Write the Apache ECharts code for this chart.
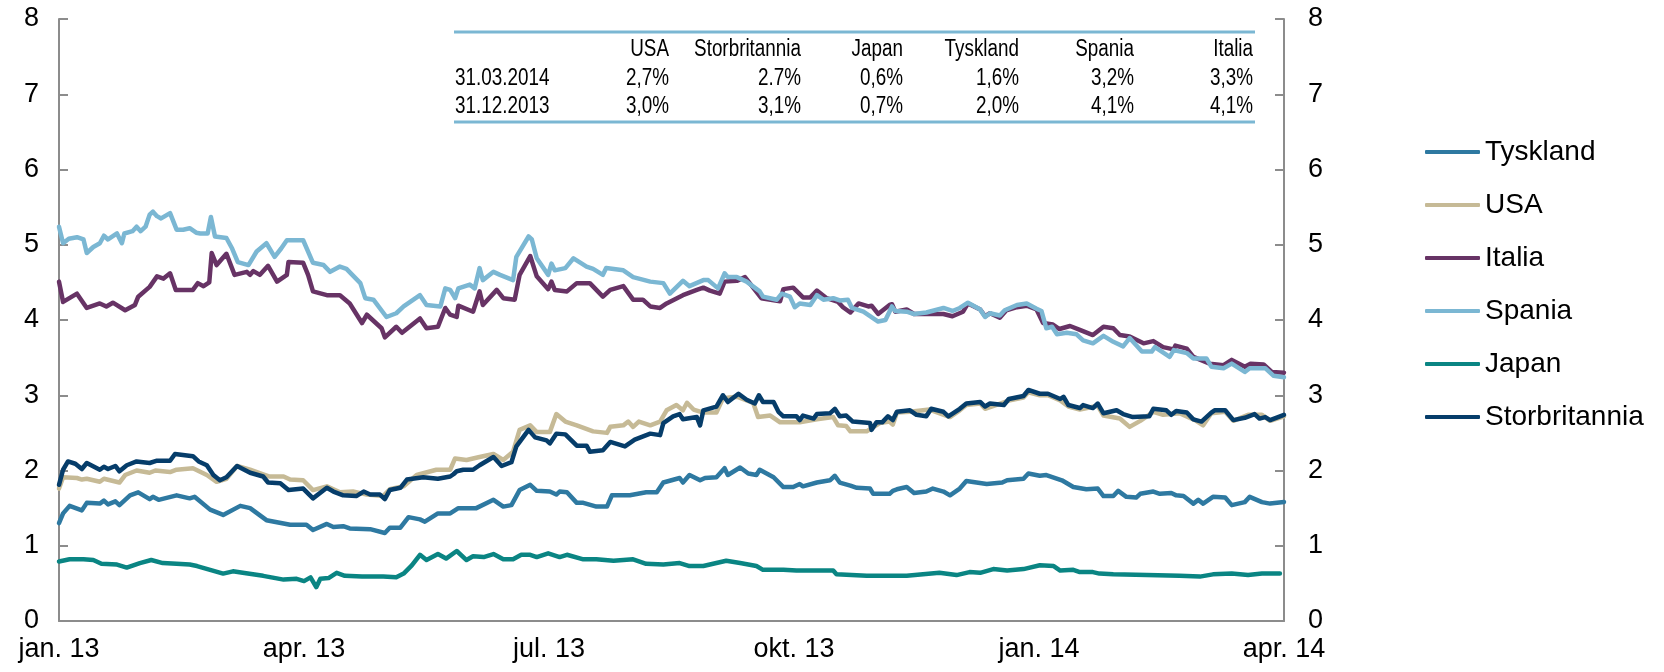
<!DOCTYPE html>
<html>
<head>
<meta charset="utf-8">
<title>Statsrenter</title>
<script src="https://cdn.jsdelivr.net/npm/echarts@6/dist/echarts.min.js"></script>
<style>
	html, body { margin: 0; padding: 0; background: #fff; }
	#chart { width: 1664px; height: 672px; }
</style>
</head>
<body>
<div id="chart"></div>
<script type="text/javascript">
	// x-verdier: måneder etter jan. 2013
	var xLabels = [ 'jan. 13', 'apr. 13', 'jul. 13', 'okt. 13', 'jan. 14', 'apr. 14' ];

	var tyskland = [[0,1.30],[0.05,1.43],[0.13,1.53],[0.28,1.47],[0.34,1.57],[0.5,1.56],[0.55,1.60],[0.6,1.55],[0.69,1.59],[0.74,1.54],[0.87,1.67],[0.97,1.71],[1.11,1.62],[1.15,1.65],[1.22,1.61],[1.44,1.67],[1.6,1.63],[1.66,1.65],[1.85,1.48],[2.01,1.41],[2.22,1.53],[2.34,1.50],[2.54,1.34],[2.83,1.28],[3.03,1.28],[3.11,1.21],[3.28,1.29],[3.36,1.25],[3.48,1.26],[3.56,1.23],[3.81,1.22],[3.99,1.17],[4.05,1.24],[4.18,1.24],[4.28,1.38],[4.42,1.35],[4.48,1.32],[4.64,1.43],[4.79,1.43],[4.89,1.50],[5.11,1.50],[5.32,1.61],[5.44,1.52],[5.54,1.54],[5.64,1.74],[5.77,1.81],[5.85,1.73],[6.01,1.72],[6.09,1.68],[6.13,1.72],[6.22,1.71],[6.34,1.57],[6.42,1.57],[6.58,1.52],[6.71,1.52],[6.77,1.67],[6.99,1.67],[7.19,1.71],[7.32,1.71],[7.4,1.84],[7.6,1.90],[7.64,1.84],[7.72,1.94],[7.85,1.87],[7.91,1.90],[8.05,1.91],[8.15,2.03],[8.19,1.94],[8.34,2.04],[8.44,1.96],[8.54,1.94],[8.58,2.01],[8.75,1.91],[8.87,1.78],[8.99,1.78],[9.07,1.82],[9.11,1.79],[9.28,1.84],[9.44,1.87],[9.5,1.93],[9.56,1.84],[9.69,1.80],[9.77,1.77],[9.93,1.76],[9.97,1.69],[10.09,1.69],[10.17,1.69],[10.21,1.73],[10.26,1.75],[10.38,1.78],[10.47,1.70],[10.62,1.72],[10.7,1.76],[10.83,1.72],[10.91,1.67],[11.03,1.76],[11.11,1.86],[11.36,1.82],[11.55,1.84],[11.61,1.87],[11.81,1.89],[11.87,1.96],[12.01,1.93],[12.09,1.94],[12.28,1.87],[12.42,1.78],[12.58,1.75],[12.72,1.76],[12.79,1.66],[12.91,1.66],[12.97,1.73],[13.07,1.65],[13.19,1.64],[13.24,1.69],[13.4,1.72],[13.48,1.69],[13.62,1.70],[13.68,1.67],[13.77,1.66],[13.89,1.56],[13.95,1.61],[14.01,1.56],[14.13,1.65],[14.28,1.64],[14.36,1.54],[14.52,1.58],[14.58,1.65],[14.73,1.58],[14.83,1.56],[15.0,1.58]];

	var usa = [[0,1.76],[0.05,1.91],[0.22,1.90],[0.28,1.88],[0.34,1.89],[0.5,1.85],[0.55,1.89],[0.74,1.84],[0.81,1.94],[0.95,2.00],[1.11,1.97],[1.18,2.00],[1.36,1.98],[1.44,2.01],[1.64,2.03],[1.81,1.94],[1.93,1.85],[2.05,1.89],[2.18,2.06],[2.34,2.01],[2.5,1.95],[2.58,1.92],[2.75,1.92],[2.83,1.88],[2.99,1.87],[3.11,1.74],[3.28,1.79],[3.44,1.71],[3.6,1.72],[3.77,1.68],[3.97,1.66],[4.05,1.75],[4.22,1.79],[4.38,1.94],[4.62,2.01],[4.79,2.01],[4.85,2.16],[4.99,2.14],[5.15,2.18],[5.32,2.22],[5.44,2.14],[5.56,2.25],[5.64,2.54],[5.77,2.60],[5.85,2.51],[6.01,2.51],[6.09,2.75],[6.2,2.65],[6.34,2.60],[6.54,2.52],[6.71,2.50],[6.75,2.58],[6.91,2.60],[6.97,2.65],[7.03,2.58],[7.1,2.65],[7.24,2.60],[7.36,2.65],[7.44,2.80],[7.56,2.87],[7.64,2.80],[7.69,2.90],[7.77,2.81],[7.89,2.77],[8.05,2.77],[8.13,2.96],[8.3,2.98],[8.5,2.90],[8.56,2.71],[8.71,2.73],[8.83,2.64],[9.07,2.64],[9.28,2.68],[9.48,2.71],[9.54,2.60],[9.64,2.59],[9.69,2.52],[9.89,2.52],[10.05,2.63],[10.17,2.65],[10.21,2.61],[10.26,2.77],[10.42,2.78],[10.66,2.81],[10.91,2.71],[11.03,2.80],[11.11,2.87],[11.28,2.89],[11.34,2.82],[11.63,2.93],[11.81,2.97],[11.87,3.04],[12.01,3.00],[12.11,3.00],[12.26,2.93],[12.36,2.85],[12.5,2.81],[12.72,2.86],[12.79,2.73],[12.99,2.69],[13.11,2.58],[13.24,2.66],[13.4,2.78],[13.52,2.74],[13.72,2.76],[13.91,2.67],[14.01,2.60],[14.11,2.76],[14.28,2.78],[14.38,2.66],[14.56,2.74],[14.73,2.74],[14.83,2.66],[15.0,2.72]];

	var italia = [[0,4.51],[0.05,4.24],[0.22,4.35],[0.34,4.16],[0.5,4.22],[0.58,4.18],[0.66,4.23],[0.81,4.13],[0.93,4.20],[0.97,4.31],[1.11,4.44],[1.2,4.58],[1.28,4.55],[1.36,4.62],[1.43,4.40],[1.64,4.40],[1.7,4.49],[1.77,4.45],[1.84,4.50],[1.87,4.89],[1.93,4.73],[2.05,4.88],[2.15,4.60],[2.3,4.64],[2.34,4.60],[2.38,4.65],[2.46,4.60],[2.56,4.72],[2.67,4.51],[2.79,4.60],[2.81,4.77],[2.99,4.76],[3.05,4.60],[3.11,4.38],[3.28,4.33],[3.44,4.33],[3.56,4.22],[3.71,3.96],[3.77,4.07],[3.95,3.89],[3.99,3.77],[4.13,3.91],[4.2,3.83],[4.42,4.02],[4.5,3.89],[4.64,3.91],[4.73,4.16],[4.79,4.07],[4.87,4.04],[4.89,4.19],[5.07,4.11],[5.15,4.38],[5.19,4.20],[5.36,4.40],[5.44,4.29],[5.58,4.27],[5.64,4.60],[5.77,4.85],[5.85,4.58],[5.99,4.41],[6.03,4.51],[6.07,4.40],[6.22,4.38],[6.34,4.49],[6.5,4.49],[6.66,4.31],[6.75,4.40],[6.91,4.45],[7.03,4.27],[7.15,4.27],[7.24,4.18],[7.36,4.16],[7.44,4.22],[7.64,4.33],[7.81,4.40],[7.89,4.43],[7.97,4.39],[8.09,4.35],[8.15,4.51],[8.3,4.52],[8.4,4.57],[8.6,4.29],[8.83,4.25],[8.87,4.41],[8.99,4.43],[9.11,4.30],[9.2,4.30],[9.28,4.39],[9.4,4.29],[9.54,4.24],[9.6,4.17],[9.69,4.10],[9.79,4.22],[9.91,4.18],[9.95,4.19],[10.03,4.08],[10.17,4.20],[10.2,4.21],[10.24,4.11],[10.38,4.14],[10.47,4.08],[10.62,4.08],[10.83,4.08],[10.94,4.05],[11.07,4.11],[11.13,4.22],[11.28,4.14],[11.34,4.05],[11.4,4.09],[11.52,4.03],[11.6,4.13],[11.73,4.17],[11.85,4.19],[11.97,4.14],[12.05,3.96],[12.17,3.94],[12.25,3.88],[12.38,3.92],[12.5,3.87],[12.66,3.80],[12.79,3.91],[12.91,3.89],[12.99,3.80],[13.11,3.78],[13.28,3.69],[13.4,3.72],[13.52,3.64],[13.65,3.61],[13.67,3.66],[13.81,3.62],[13.89,3.51],[14.09,3.42],[14.26,3.40],[14.36,3.47],[14.52,3.38],[14.59,3.42],[14.75,3.41],[14.85,3.31],[15.0,3.30]];

	var spania = [[0,5.24],[0.05,5.02],[0.12,5.08],[0.22,5.10],[0.3,5.07],[0.34,4.89],[0.42,4.97],[0.5,5.02],[0.55,5.12],[0.6,5.07],[0.71,5.15],[0.77,5.02],[0.8,5.15],[0.9,5.18],[0.95,5.24],[1.0,5.18],[1.06,5.24],[1.11,5.40],[1.15,5.44],[1.2,5.38],[1.25,5.35],[1.36,5.42],[1.44,5.20],[1.52,5.20],[1.6,5.22],[1.68,5.16],[1.73,5.15],[1.82,5.15],[1.86,5.37],[1.91,5.11],[2.05,5.09],[2.12,4.95],[2.19,4.77],[2.32,4.73],[2.42,4.91],[2.54,5.02],[2.64,4.84],[2.72,4.95],[2.79,5.06],[2.99,5.06],[3.11,4.76],[3.24,4.73],[3.32,4.64],[3.44,4.71],[3.52,4.68],[3.69,4.49],[3.75,4.29],[3.85,4.27],[4.01,4.04],[4.13,4.09],[4.22,4.18],[4.42,4.33],[4.5,4.20],[4.67,4.18],[4.73,4.42],[4.79,4.40],[4.85,4.29],[4.89,4.42],[5.03,4.47],[5.09,4.42],[5.15,4.69],[5.19,4.53],[5.32,4.64],[5.4,4.60],[5.56,4.53],[5.6,4.84],[5.75,5.11],[5.79,5.07],[5.85,4.82],[5.99,4.60],[6.03,4.75],[6.07,4.66],[6.2,4.69],[6.3,4.82],[6.46,4.71],[6.54,4.68],[6.66,4.60],[6.7,4.69],[6.91,4.66],[7.03,4.57],[7.24,4.51],[7.4,4.49],[7.48,4.35],[7.64,4.52],[7.72,4.45],[7.89,4.53],[7.95,4.53],[8.07,4.42],[8.15,4.62],[8.19,4.57],[8.3,4.57],[8.42,4.51],[8.58,4.38],[8.62,4.31],[8.79,4.27],[8.85,4.35],[8.95,4.31],[9.01,4.17],[9.07,4.22],[9.2,4.20],[9.28,4.33],[9.36,4.27],[9.48,4.29],[9.56,4.26],[9.66,4.27],[9.71,4.16],[9.85,4.11],[10.03,3.98],[10.12,4.00],[10.2,4.18],[10.24,4.12],[10.38,4.11],[10.47,4.08],[10.62,4.10],[10.83,4.16],[10.94,4.12],[11.03,4.16],[11.13,4.23],[11.28,4.14],[11.34,4.04],[11.4,4.09],[11.52,4.06],[11.58,4.13],[11.73,4.20],[11.85,4.22],[11.97,4.15],[12.03,4.12],[12.09,3.89],[12.16,3.91],[12.22,3.81],[12.34,3.83],[12.46,3.81],[12.54,3.73],[12.66,3.69],[12.79,3.79],[12.91,3.71],[13.03,3.65],[13.11,3.76],[13.26,3.58],[13.38,3.58],[13.42,3.64],[13.6,3.51],[13.65,3.60],[13.81,3.56],[13.89,3.49],[14.05,3.49],[14.11,3.38],[14.26,3.36],[14.36,3.42],[14.52,3.31],[14.58,3.36],[14.77,3.36],[14.87,3.26],[15.0,3.24]];

	var japan = [[0,0.79],[0.13,0.82],[0.3,0.82],[0.42,0.81],[0.52,0.76],[0.71,0.75],[0.83,0.71],[0.99,0.77],[1.13,0.81],[1.27,0.77],[1.44,0.76],[1.6,0.75],[1.69,0.73],[1.85,0.68],[2.01,0.63],[2.13,0.66],[2.25,0.64],[2.5,0.60],[2.75,0.55],[2.91,0.56],[3.0,0.53],[3.08,0.58],[3.15,0.45],[3.2,0.56],[3.3,0.57],[3.4,0.64],[3.5,0.60],[3.71,0.59],[3.97,0.59],[4.13,0.58],[4.22,0.63],[4.32,0.74],[4.42,0.88],[4.5,0.81],[4.64,0.89],[4.74,0.83],[4.87,0.93],[4.99,0.81],[5.07,0.86],[5.2,0.85],[5.32,0.89],[5.44,0.82],[5.56,0.82],[5.66,0.88],[5.77,0.88],[5.85,0.85],[5.99,0.90],[6.13,0.85],[6.22,0.88],[6.42,0.82],[6.58,0.82],[6.79,0.80],[7.03,0.82],[7.19,0.76],[7.4,0.75],[7.6,0.77],[7.72,0.73],[7.89,0.73],[8.17,0.80],[8.34,0.77],[8.54,0.73],[8.62,0.68],[8.87,0.68],[9.03,0.67],[9.28,0.67],[9.48,0.67],[9.52,0.62],[9.89,0.60],[10.09,0.60],[10.38,0.60],[10.58,0.62],[10.78,0.64],[10.99,0.61],[11.15,0.65],[11.28,0.64],[11.44,0.69],[11.61,0.67],[11.81,0.69],[12.01,0.74],[12.18,0.73],[12.26,0.67],[12.42,0.68],[12.5,0.65],[12.66,0.65],[12.74,0.63],[12.91,0.62],[13.32,0.61],[13.72,0.60],[13.97,0.59],[14.13,0.62],[14.36,0.63],[14.56,0.61],[14.73,0.63],[14.95,0.63]];

	var storbritannia = [[0,1.81],[0.05,2.01],[0.11,2.12],[0.2,2.09],[0.28,2.02],[0.34,2.10],[0.5,2.01],[0.55,2.05],[0.6,2.02],[0.69,2.06],[0.74,1.99],[0.83,2.07],[0.95,2.12],[1.11,2.10],[1.2,2.13],[1.36,2.13],[1.42,2.22],[1.64,2.19],[1.71,2.12],[1.81,2.07],[1.89,1.94],[1.97,1.87],[2.05,1.91],[2.18,2.06],[2.34,1.97],[2.5,1.92],[2.56,1.84],[2.71,1.83],[2.81,1.74],[2.99,1.76],[3.11,1.63],[3.28,1.77],[3.36,1.72],[3.48,1.67],[3.64,1.66],[3.73,1.72],[3.81,1.68],[3.93,1.68],[3.99,1.62],[4.05,1.74],[4.18,1.77],[4.26,1.88],[4.46,1.91],[4.64,1.89],[4.79,1.92],[4.83,1.95],[4.87,1.99],[4.95,2.01],[5.07,2.01],[5.15,2.07],[5.32,2.18],[5.42,2.06],[5.54,2.11],[5.6,2.32],[5.75,2.54],[5.83,2.44],[5.97,2.40],[6.01,2.36],[6.09,2.49],[6.2,2.48],[6.34,2.33],[6.46,2.33],[6.5,2.25],[6.66,2.27],[6.75,2.38],[6.93,2.32],[7.05,2.41],[7.24,2.49],[7.36,2.47],[7.4,2.63],[7.52,2.72],[7.6,2.75],[7.64,2.68],[7.81,2.71],[7.85,2.60],[7.89,2.80],[8.05,2.85],[8.13,3.00],[8.19,2.91],[8.32,3.02],[8.42,2.94],[8.52,2.89],[8.57,3.00],[8.62,2.91],[8.75,2.91],[8.81,2.78],[8.87,2.72],[9.03,2.72],[9.07,2.67],[9.11,2.73],[9.24,2.69],[9.28,2.75],[9.44,2.76],[9.5,2.82],[9.56,2.72],[9.64,2.73],[9.72,2.65],[9.93,2.63],[9.95,2.54],[10.01,2.64],[10.08,2.64],[10.15,2.72],[10.21,2.67],[10.26,2.78],[10.42,2.80],[10.5,2.74],[10.62,2.72],[10.68,2.82],[10.83,2.78],[10.89,2.72],[11.03,2.82],[11.11,2.89],[11.28,2.91],[11.34,2.85],[11.4,2.89],[11.57,2.87],[11.63,2.95],[11.81,2.99],[11.87,3.07],[12.01,3.02],[12.11,3.02],[12.26,2.95],[12.3,2.98],[12.36,2.87],[12.5,2.83],[12.54,2.87],[12.66,2.83],[12.72,2.89],[12.79,2.76],[12.95,2.80],[13.03,2.75],[13.15,2.71],[13.35,2.72],[13.4,2.82],[13.56,2.80],[13.62,2.74],[13.68,2.79],[13.81,2.77],[13.89,2.68],[13.99,2.65],[14.11,2.77],[14.15,2.80],[14.28,2.80],[14.38,2.67],[14.52,2.70],[14.64,2.75],[14.7,2.69],[14.77,2.71],[14.83,2.67],[15.0,2.74]];

	var tableHead = [ 'USA', 'Storbritannia', 'Japan', 'Tyskland', 'Spania', 'Italia' ];
	var tableDates = [ '31.03.2014', '31.12.2013' ];
	var tableMar14 = [ '2,7%', '2.7%', '0,6%', '1,6%', '3,2%', '3,3%' ];
	var tableDec13 = [ '3,0%', '3,1%', '0,7%', '2,0%', '4,1%', '4,1%' ];

	var names = [ 'Tyskland', 'USA', 'Italia', 'Spania', 'Japan', 'Storbritannia' ];
	var seriesData = [ tyskland, usa, italia, spania, japan, storbritannia ];
	var colors = [ '#2e79a1', '#c6ba96', '#673365', '#7bb7d3', '#0a8583', '#063d6a' ];

	var FONT = '"Liberation Sans", Arial, sans-serif';
	var AXIS = '#8c8c8c';

	// tabell oppe i plottet (smal skrift: vanlig skrift klemt sammen)
	var colRight = [ 669, 801, 903, 1019, 1134, 1253 ];
	var rowY = [ 50, 79, 107 ];
	var graphics = [
		{ type : 'line', shape : { x1 : 454, y1 : 32, x2 : 1255, y2 : 32 }, style : { stroke : '#7bb7d3', lineWidth : 3 } },
		{ type : 'line', shape : { x1 : 454, y1 : 122, x2 : 1255, y2 : 122 }, style : { stroke : '#7bb7d3', lineWidth : 3 } }
	];
	function cell(txt, x, y, align) {
		return {
			type : 'text',
			x : x,
			y : y,
			scaleX : 0.82,
			style : { text : txt, x : 0, y : 0, fill : '#000', font : '23px ' + FONT, align : align, verticalAlign : 'middle' }
		};
	}
	for (var i = 0; i < tableHead.length; i++) {
		graphics.push(cell(tableHead[i], colRight[i], rowY[0], 'right'));
		graphics.push(cell(tableMar14[i], colRight[i], rowY[1], 'right'));
		graphics.push(cell(tableDec13[i], colRight[i], rowY[2], 'right'));
	}
	graphics.push(cell(tableDates[0], 455, rowY[1], 'left'));
	graphics.push(cell(tableDates[1], 455, rowY[2], 'left'));

	var series = [];
	for (var s = 0; s < names.length; s++) {
		series.push({
			name : names[s],
			type : 'line',
			data : seriesData[s],
			showSymbol : false,
			symbol : 'none',
			color : colors[s],
			lineStyle : { width : 4.5, color : colors[s], join : 'round', cap : 'round' }
		});
	}

	function yAxisCfg(pos, margin) {
		return {
			type : 'value',
			position : pos,
			min : 0,
			max : 8,
			interval : 1,
			axisLine : { show : true, lineStyle : { color : AXIS, width : 2 } },
			axisTick : { show : true, inside : true, length : 9, lineStyle : { color : AXIS, width : 2 } },
			axisLabel : { color : '#000', fontSize : 27, fontFamily : FONT, margin : margin },
			splitLine : { show : false }
		};
	}

	var chart = echarts.init(document.getElementById('chart'));
	chart.setOption({
		animation : false,
		backgroundColor : '#fff',
		grid : { left : 59, right : 380, top : 19, bottom : 51 },
		legend : {
			orient : 'vertical',
			left : 1425,
			top : 137,
			padding : 0,
			icon : 'roundRect',
			itemWidth : 55,
			itemHeight : 4,
			itemGap : 23,
			data : names,
			textStyle : { color : '#000', fontSize : 28, fontFamily : FONT, lineHeight : 30 }
		},
		xAxis : {
			type : 'value',
			min : 0,
			max : 15,
			interval : 3,
			axisLine : { show : true, onZero : false, lineStyle : { color : AXIS, width : 2 } },
			axisTick : { show : false },
			splitLine : { show : false },
			axisLabel : {
				color : '#000',
				fontSize : 27,
				fontFamily : FONT,
				margin : 15,
				showMinLabel : true,
				showMaxLabel : true,
				formatter : function(v) { return xLabels[Math.round(v / 3)]; }
			}
		},
		yAxis : [ yAxisCfg('left', 20), yAxisCfg('right', 24) ],
		graphic : graphics,
		series : series
	});
</script>
</body>
</html>
